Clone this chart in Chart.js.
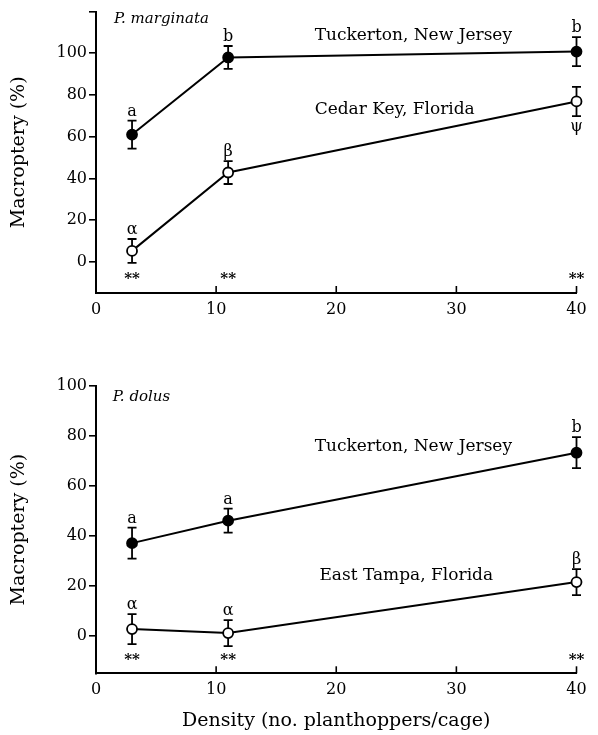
<!DOCTYPE html>
<html>
<head>
<meta charset="utf-8">
<script src="https://cdn.jsdelivr.net/npm/chart.js@4"></script>
<style>
  body { margin: 0; background: #fff; }
  canvas { position: absolute; left: 0; }
  #top-chart { top: 0; }
  #bottom-chart { top: 370px; }
</style>
</head>
<body>
<canvas id="top-chart" width="598" height="340"></canvas>
<canvas id="bottom-chart" width="598" height="365"></canvas>
<script>
// density treatments (x) shared by both panels
const densities = [3, 11, 40];
const xTicks = [0, 10, 20, 30, 40];
const xTickLabels = ["0", "10", "20", "30", "40"];
const sigMarks = ["**", "**", "**"];

// P. marginata
const marginataTuckerton = [61, 98, 100.8];
const marginataTuckertonErr = [6.7, 5.5, 7];
const marginataTuckertonLetters = ["a", "b", "b"];
const marginataCedarKey = [5.2, 42.8, 76.9];
const marginataCedarKeyErr = [5.7, 5.5, 7];
const marginataCedarKeyLetters = ["α", "β", "ψ"];
const marginataYTicks = [0, 20, 40, 60, 80, 100, 120];
const marginataYTickLabels = ["0", "20", "40", "60", "80", "100", ""];

// P. dolus
const dolusTuckerton = [37.1, 46.1, 73.3];
const dolusTuckertonErr = [6.2, 4.8, 6.2];
const dolusTuckertonLetters = ["a", "a", "b"];
const dolusTampa = [2.7, 1.1, 21.5];
const dolusTampaErr = [6, 5.2, 5.2];
const dolusTampaLetters = ["α", "α", "β"];
const dolusYTicks = [0, 20, 40, 60, 80, 100];
const dolusYTickLabels = ["0", "20", "40", "60", "80", "100"];

const SERIF = "'DejaVu Serif', serif";
Chart.defaults.font.family = SERIF;
Chart.defaults.color = "#000";

const makeAnnotations = (cfg) => ({
    id: "annotations",
    beforeDatasetsDraw(chart) {
        const { ctx } = chart;
        const xs = chart.scales.x, ys = chart.scales.y;
        ctx.save();
        ctx.strokeStyle = "#000";
        ctx.lineWidth = 1.8;
        // error bars
        cfg.series.forEach((s) => {
            densities.forEach((d, i) => {
                const px = xs.getPixelForValue(d);
                const top = ys.getPixelForValue(s.values[i] + s.err[i]);
                const bot = ys.getPixelForValue(s.values[i] - s.err[i]);
                ctx.beginPath();
                ctx.moveTo(px, top); ctx.lineTo(px, bot);
                ctx.moveTo(px - 4.5, top); ctx.lineTo(px + 4.5, top);
                ctx.moveTo(px - 4.5, bot); ctx.lineTo(px + 4.5, bot);
                ctx.stroke();
            });
        });
        // x ticks point inward
        const base = chart.chartArea.bottom;
        ctx.lineWidth = 1.6;
        xTicks.forEach((v) => {
            if (v === 0) return;
            const px = xs.getPixelForValue(v);
            ctx.beginPath();
            ctx.moveTo(px, base);
            ctx.lineTo(px, base - 7);
            ctx.stroke();
        });
        ctx.restore();
    },
    afterDatasetsDraw(chart) {
        const { ctx } = chart;
        const xs = chart.scales.x, ys = chart.scales.y;
        ctx.save();
        ctx.fillStyle = "#000";
        ctx.textAlign = "center";

        // significance letters
        ctx.font = "16px " + SERIF;
        cfg.series.forEach((s) => {
            densities.forEach((d, i) => {
                const px = xs.getPixelForValue(d);
                if (s.below && s.below[i]) {
                    ctx.textBaseline = "top";
                    ctx.fillText(s.letters[i], px, ys.getPixelForValue(s.values[i] - s.err[i]) + 3);
                } else {
                    ctx.textBaseline = "bottom";
                    ctx.fillText(s.letters[i], px, ys.getPixelForValue(s.values[i] + s.err[i]) - 1);
                }
            });
        });

        // ** between populations
        ctx.font = "bold 15px " + SERIF;
        ctx.textBaseline = "middle";
        densities.forEach((d, i) => {
            ctx.fillText(sigMarks[i], xs.getPixelForValue(d), ys.getPixelForValue(cfg.sigY) + 2);
        });

        // population labels
        ctx.font = "17px " + SERIF;
        ctx.textAlign = "left";
        cfg.labels.forEach((l) => {
            ctx.fillText(l.text, xs.getPixelForValue(l.x), ys.getPixelForValue(l.y));
        });

        // species name
        ctx.font = "italic 15px " + SERIF;
        ctx.fillText(cfg.title.text, xs.getPixelForValue(cfg.title.x), ys.getPixelForValue(cfg.title.y));
        ctx.restore();
    }
});

const makeChart = (canvasId, cfg) => {
    const datasets = cfg.series.map((s) => ({
        data: densities.map((d, i) => ({ x: d, y: s.values[i] })),
        showLine: true,
        clip: false,
        borderColor: "#000",
        borderWidth: 2,
        pointRadius: 5,
        pointHoverRadius: 5,
        pointBorderWidth: 1.8,
        pointBorderColor: "#000",
        pointBackgroundColor: s.filled ? "#000" : "#fff"
    }));

    return new Chart(document.getElementById(canvasId), {
        type: "scatter",
        data: { datasets },
        plugins: [makeAnnotations(cfg)],
        options: {
            responsive: false,
            animation: false,
            events: [],
            layout: { padding: { left: 0, right: 21.5, top: cfg.padTop, bottom: 0 } },
            plugins: { legend: { display: false }, tooltip: { enabled: false } },
            scales: {
                x: {
                    type: "linear",
                    min: 0,
                    max: 40,
                    afterBuildTicks: (ax) => { ax.ticks = xTicks.map((v) => ({ value: v })); },
                    afterFit: (ax) => { ax.height = cfg.xAxisHeight; },
                    ticks: {
                        callback: (v) => xTickLabels[xTicks.indexOf(v)],
                        font: { size: 16 },
                        color: "#000",
                        padding: 7,
                        maxRotation: 0
                    },
                    grid: { drawOnChartArea: false, drawTicks: false },
                    border: { color: "#000", width: 2 },
                    title: {
                        display: !!cfg.xTitle,
                        text: cfg.xTitle || "",
                        font: { size: 19 },
                        color: "#000",
                        padding: { top: 0, bottom: 3 }
                    }
                },
                y: {
                    type: "linear",
                    min: cfg.yMin,
                    max: cfg.yMax,
                    afterBuildTicks: (ax) => { ax.ticks = cfg.yTicks.map((v) => ({ value: v })); },
                    afterFit: (ax) => { ax.width = 96; },
                    ticks: {
                        callback: (v) => cfg.yTickLabels[cfg.yTicks.indexOf(v)],
                        font: { size: 16 },
                        color: "#000",
                        padding: 2
                    },
                    grid: { drawOnChartArea: false, drawTicks: true, tickLength: 7, color: "#000", lineWidth: 1.6 },
                    border: { color: "#000", width: 2 },
                    title: {
                        display: true,
                        text: "Macroptery (%)",
                        font: { size: 19 },
                        color: "#000",
                        padding: { top: 8, bottom: 0 }
                    }
                }
            }
        }
    });
};

makeChart("top-chart", {
    yMin: -15, yMax: 120,
    yTicks: marginataYTicks, yTickLabels: marginataYTickLabels,
    padTop: 7, xAxisHeight: 47,
    sigY: -7.4,
    series: [
        { values: marginataTuckerton, err: marginataTuckertonErr, letters: marginataTuckertonLetters, filled: true },
        { values: marginataCedarKey, err: marginataCedarKeyErr, letters: marginataCedarKeyLetters, filled: false, below: [false, false, true] }
    ],
    labels: [
        { text: "Tuckerton, New Jersey", x: 18.2, y: 108.5 },
        { text: "Cedar Key, Florida", x: 18.2, y: 73.1 }
    ],
    title: { text: "P. marginata", x: 1.5, y: 116.5 }
});

makeChart("bottom-chart", {
    yMin: -15, yMax: 100,
    yTicks: dolusYTicks, yTickLabels: dolusYTickLabels,
    padTop: 16, xAxisHeight: 61.7,
    sigY: -8.8,
    xTitle: "Density (no. planthoppers/cage)",
    series: [
        { values: dolusTuckerton, err: dolusTuckertonErr, letters: dolusTuckertonLetters, filled: true },
        { values: dolusTampa, err: dolusTampaErr, letters: dolusTampaLetters, filled: false }
    ],
    labels: [
        { text: "Tuckerton, New Jersey", x: 18.2, y: 75.6 },
        { text: "East Tampa, Florida", x: 18.6, y: 24 }
    ],
    title: { text: "P. dolus", x: 1.4, y: 95.7 }
});
</script>
</body>
</html>
